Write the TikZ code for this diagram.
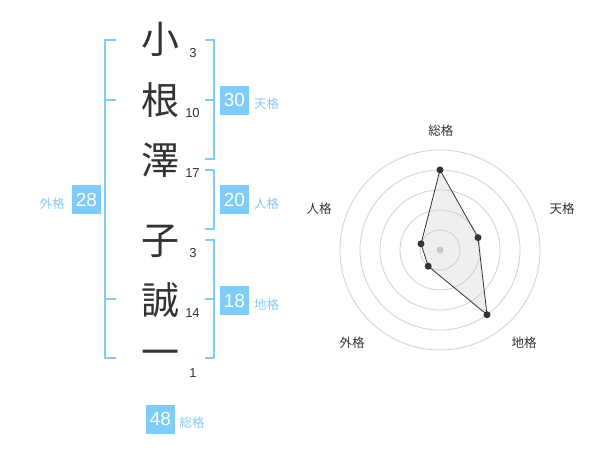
\documentclass[tikz,border=0pt]{standalone}
\usepackage{fontspec}
\setmainfont{Liberation Sans}
\newfontfamily\jp{Noto Sans CJK JP}
\definecolor{bl}{HTML}{7FCCF8}
\definecolor{bltxt}{HTML}{86CBF2}
\definecolor{dk}{HTML}{333333}
\definecolor{ring}{HTML}{D0D0D0}
\definecolor{polyfill}{HTML}{CCCCCC}
\definecolor{cdot}{HTML}{C8C8C8}
\begin{document}
\begin{tikzpicture}[x=1pt,y=-1pt,
  kanji/.style={font=\jp\fontsize{38}{38}\selectfont, text=dk, inner sep=0pt},
  strokes/.style={font=\fontsize{13}{13}\selectfont, text=dk, inner sep=0pt},
  numbox/.style={fill=bl, text=white, minimum size=29pt, inner sep=0pt, font=\fontsize{19}{19}\selectfont},
  kaku/.style={text=bltxt, font=\jp\fontsize{12.5}{12.5}\selectfont, inner sep=0pt},
  axislabel/.style={text=dk, font=\jp\fontsize{12.5}{12.5}\selectfont, inner sep=0pt},
  brk/.style={draw=bl, line width=2pt},
  ringline/.style={draw=ring, line width=0.8pt},
  dot/.style={circle, fill=dk, inner sep=0pt, minimum size=7pt}
]
\useasboundingbox[fill=white] (0,0) rectangle (600,470);

% brackets
\draw[brk] (116,40) -- (105,40) -- (105,358) -- (116,358);
\draw[brk] (105,100) -- (116,100);
\draw[brk] (105,299) -- (116,299);
\draw[brk] (205,40) -- (214,40) -- (214,159) -- (205,159);
\draw[brk] (214,100) -- (205,100);
\draw[brk] (205,170) -- (214,170) -- (214,229) -- (205,229);
\draw[brk] (205,240) -- (214,240) -- (214,358) -- (205,358);
\draw[brk] (214,299) -- (205,299);

% kanji
\node[kanji] (k1) at (160,39) {小};
\node[kanji] (k2) at (160,100.5) {根};
\node[kanji] (k3) at (160,160) {澤};
\node[kanji] (k4) at (160,241) {子};
\node[kanji] (k5) at (160,300) {誠};
\node[kanji] (k6) at (160,358) {一};

% stroke counts
\node[strokes] (s1) at (193,52.8) {3};
\node[strokes] (s2) at (192.5,113) {10};
\node[strokes] (s3) at (192.5,173.3) {17};
\node[strokes] (s4) at (193,252.8) {3};
\node[strokes] (s5) at (192.5,312.7) {14};
\node[strokes] (s6) at (193,373) {1};

% boxes
\node[numbox] (ten) at (234.5,100.3) {30};
\node[kaku, anchor=west] (tenl) at (254,103.7) {天格};
\node[numbox] (jin) at (234.5,200) {20};
\node[kaku, anchor=west] (jinl) at (254,204) {人格};
\node[numbox] (chi) at (234.5,300.5) {18};
\node[kaku, anchor=west] (chil) at (254,304.5) {地格};
\node[numbox] (gai) at (86.5,200) {28};
\node[kaku, anchor=east] (gail) at (65,204) {外格};
\node[numbox] (sou) at (160.5,419) {48};
\node[kaku, anchor=west] (soul) at (179.5,422.8) {総格};

% radar
\coordinate (c) at (440,250);
\foreach \r in {20,40,60,80,100} \draw[ringline] (c) circle (\r pt);
\coordinate (p1) at (440,170);
\coordinate (p2) at (478.0,237.6);
\coordinate (p3) at (487.0,314.7);
\coordinate (p4) at (428.2,266.2);
\coordinate (p5) at (421.0,243.8);
\draw[fill=polyfill, fill opacity=0.3, draw=dk, line width=0.8pt] (p1) -- (p2) -- (p3) -- (p4) -- (p5) -- cycle;
\fill[cdot] (c) circle (3.5pt);
\foreach \p in {p1,p2,p3,p4,p5} \node[dot] at (\p) {};

\node[axislabel] (a1) at (440.8,130.5) {総格};
\node[axislabel] (a2) at (562,208.7) {天格};
\node[axislabel] (a3) at (524,342.5) {地格};
\node[axislabel] (a4) at (352,342.5) {外格};
\node[axislabel] (a5) at (319,208.7) {人格};
\end{tikzpicture}
\end{document}
